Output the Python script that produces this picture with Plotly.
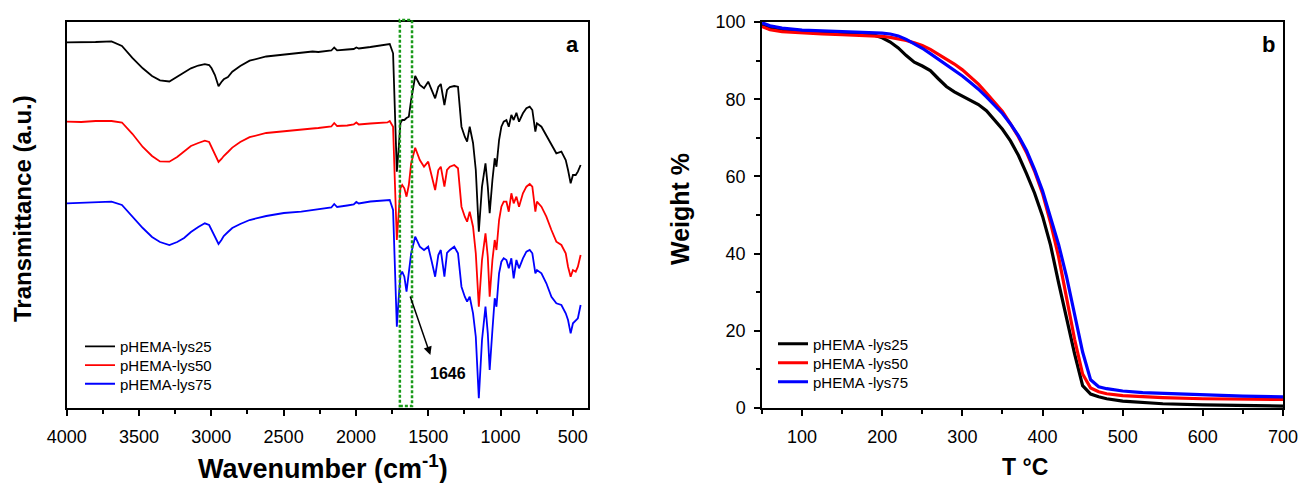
import plotly.graph_objects as go

# ---------------- FTIR data (panel a) ----------------
wavenumber = [4000, 3900, 3800, 3690, 3618, 3546, 3474, 3410, 3355, 3290, 3236, 3188, 3141, 3090,
              3045, 3015, 2998, 2975, 2950, 2930, 2914, 2885, 2855, 2800, 2735, 2620, 2498, 2378,
              2300, 2260, 2170, 2150, 2130, 2060, 2015, 1997, 1980, 1900, 1820, 1782, 1766, 1743,
              1731, 1717, 1705, 1692, 1680, 1665, 1650, 1634, 1618, 1590, 1558, 1529, 1500, 1475,
              1452, 1430, 1413, 1388, 1370, 1350, 1320, 1294, 1270, 1247, 1231, 1213, 1190, 1171,
              1150, 1128, 1104, 1088, 1075, 1056, 1040, 1028, 1010, 994, 978, 959, 943, 925, 909,
              890, 872, 845, 821, 798, 780, 759, 748, 717, 683, 648, 614, 579, 549, 533, 515, 499,
              480, 465, 446]

t_lys25 = [365.6, 365.5, 366, 366.6, 362.1, 350.1, 339.7, 332, 327.7, 326.5, 331.1, 336, 339.7, 342.5,
           343.9, 343, 339.7, 333, 321.8, 326, 328.7, 331, 336.3, 342, 347.3, 351.5, 353.5, 355.5,
           356.5, 356, 357.5, 360.5, 357.7, 358.5, 359, 360.5, 359.5, 361, 362.5, 363.2, 364, 354.7,
           305, 236.3, 258, 285, 288, 288, 290, 291.3, 308, 332, 323, 319.7, 326.3, 318,
           309.7, 321, 324, 303, 318, 321, 322, 321.3, 281.3, 271.3, 266.3, 281.3, 265, 238,
           176.3, 221.3, 244.7, 221.3, 194.7, 228, 249.7, 241.3, 268, 281.3, 286.3, 288, 281.3, 293, 288,
           295.3, 286.3, 294.7, 299.7, 301.3, 298, 276.3, 284.7, 281.3, 273, 263, 254.7, 256.3, 248, 238, 224.7, 233,
           233, 236.3, 243]

t_lys50 = [286.3, 286, 287, 287, 285.5, 274.2, 261, 252, 246.6, 246.3, 251, 257, 262, 265,
           267.3, 266, 260.4, 254, 246, 249, 252, 256, 260.4, 266, 270.8, 275, 277, 278.3,
           279.5, 280, 281.5, 285, 282, 282.5, 283.5, 285.5, 283.5, 284.5, 285.2, 285.6, 287, 281.3,
           228, 168, 193, 220, 223, 219.7, 211.3, 223, 244.7, 260.3, 248, 241.3, 246.3, 233,
           218, 238, 241.3, 221.3, 238, 241.3, 243, 239.7, 201.3, 191.3, 186.3, 196.3, 181.3, 154.7,
           101.3, 148, 174.7, 151.3, 111.3, 148, 168, 158, 188, 201.3, 206.3, 206.3, 196.3, 214.7, 204.7,
           211.3, 201.3, 214.7, 221.3, 224, 221.3, 196.3, 206.3, 201.3, 191.3, 178, 166.3, 163, 154.7, 141.3, 131.3, 138,
           136.3, 141.3, 153]

t_lys75 = [204.7, 205, 206, 206.3, 203, 191.3, 180, 171, 166, 163, 166, 170, 176, 181,
           184.7, 183, 178, 171, 164, 168, 172, 176, 180, 184, 188, 192, 195, 196.3,
           198, 198.5, 200.5, 204, 201, 202.5, 203.5, 206, 204.5, 206.5, 207.5, 208, 208, 198,
           148, 81.3, 108, 133, 136.3, 131.3, 116.3, 134.7, 154.7, 171.3, 161.3, 158, 161.3, 146,
           131.3, 153, 158, 131.3, 155, 158, 161.3, 154.7, 121.3, 111.3, 106.3, 111.3, 94.7, 71.3,
           9.7, 68, 101.3, 74.7, 38, 78, 109.7, 101.3, 134.7, 146.3, 149.7, 148, 139.7, 149.7, 129.7,
           148, 139.7, 149.7, 156.3, 158, 154.7, 134.7, 138, 134.7, 124.7, 111.3, 104.7, 103, 94.7, 88, 74.7, 84.7,
           88, 89.7, 103]

ftir_names = ["pHEMA-lys25", "pHEMA-lys50", "pHEMA-lys75"]

# ---------------- TGA data (panel b) ----------------
temperature = [50, 60, 75, 100, 125, 150, 175, 190, 200, 210, 220, 230, 240, 250, 260, 270, 280, 290,
               300, 310, 320, 330, 340, 350, 360, 370, 380, 390, 400, 410, 420, 430, 440, 450, 460,
               470, 480, 500, 525, 550, 600, 650, 700]
w_lys25 = [99.3, 98.6, 98.0, 97.6, 97.4, 97.2, 97.0, 96.6, 95.9, 94.8, 93.3, 91.3, 89.6, 88.6, 87.4,
           85.3, 83.3, 81.9, 80.8, 79.8, 78.6, 77.0, 74.7, 72.2, 69.2, 65.4, 60.7, 55.7, 49.7, 42.2,
           32.5, 23.2, 14.0, 5.8, 3.6, 2.9, 2.4, 1.8, 1.4, 1.1, 0.8, 0.6, 0.5]
w_lys50 = [98.8, 98.0, 97.5, 97.1, 96.9, 96.7, 96.5, 96.4, 96.3, 96.0, 95.7, 95.2, 94.6, 93.9, 92.9,
           91.7, 90.4, 89.1, 87.6, 85.8, 83.9, 81.6, 79.2, 76.8, 73.6, 70.2, 66.2, 61.4, 55.6, 48.0,
           39.2, 28.7, 17.8, 8.8, 5.2, 4.2, 3.7, 3.2, 2.9, 2.7, 2.4, 2.3, 2.2]
w_lys75 = [99.8, 99.0, 98.4, 97.9, 97.7, 97.5, 97.4, 97.3, 97.1, 96.9, 96.4, 95.5, 94.4, 93.2, 91.8,
           90.4, 89.0, 87.5, 86.0, 84.3, 82.6, 80.6, 78.5, 76.3, 73.6, 70.5, 66.7, 61.8, 56.3, 49.6,
           42.4, 34.0, 24.5, 14.5, 7.3, 5.5, 5.0, 4.4, 4.0, 3.8, 3.4, 3.1, 2.9]
tga_names = ["pHEMA -lys25", "pHEMA -lys50", "pHEMA -lys75"]

colors = ["#000000", "#ff0000", "#0000ff"]
FONT = "Liberation Sans, Arial, sans-serif"

W, H = 1301, 483
def px(x):
    return x / W
def py(y):
    return (H - y) / H

# legend row positions (one legend per entry so rows sit where the reference has them)
ftir_legend_rows = [346.7, 365.3, 384]
tga_legend_rows = [344, 363, 382]

fig = go.Figure()

legend_layout = {}
for i, (name, ys, c) in enumerate(zip(ftir_names, [t_lys25, t_lys50, t_lys75], colors)):
    lg = "legend" if i == 0 else f"legend{i + 1}"
    fig.add_trace(go.Scatter(x=wavenumber, y=ys, mode="lines", name=name,
                             line=dict(color=c, width=1.8), xaxis="x", yaxis="y",
                             legend=lg))
    legend_layout[lg] = dict(x=px(80), y=py(ftir_legend_rows[i]), xanchor="left", yanchor="middle",
                             bgcolor="rgba(0,0,0,0)", borderwidth=0,
                             font=dict(family=FONT, size=15, color="black"))

for i, (name, ys, c) in enumerate(zip(tga_names, [w_lys25, w_lys50, w_lys75], colors)):
    lg = f"legend{i + 4}"
    fig.add_trace(go.Scatter(x=temperature, y=ys, mode="lines", name=name,
                             line=dict(color=c, width=3.2), xaxis="x2", yaxis="y2",
                             legend=lg))
    legend_layout[lg] = dict(x=px(773), y=py(tga_legend_rows[i]), xanchor="left", yanchor="middle",
                             bgcolor="rgba(0,0,0,0)", borderwidth=0,
                             font=dict(family=FONT, size=15, color="black"))

axis_common = dict(showline=True, linecolor="black", linewidth=1.5, mirror=True,
                   showgrid=False, zeroline=False,
                   tickfont=dict(family=FONT, size=18, color="black"))

fig.update_layout(
    width=W, height=H,
    margin=dict(l=0, r=0, t=0, b=0, autoexpand=False),
    paper_bgcolor="white", plot_bgcolor="white",
    showlegend=True,
    xaxis=dict(domain=[px(66.7), px(588)], range=[4000, 395], anchor="y",
               ticks="outside", ticklen=6, tickwidth=1.5, tickcolor="black",
               tick0=500, dtick=500, ticklabelstandoff=6,
               minor=dict(ticks="outside", ticklen=4, tickwidth=1.5, tickcolor="black", dtick=250),
               **axis_common),
    yaxis=dict(domain=[py(408), py(22)], range=[0, 386], anchor="x",
               showticklabels=False, ticks="", **axis_common),
    xaxis2=dict(domain=[px(762), px(1283)], range=[50, 700], anchor="y2",
                ticks="outside", ticklen=6, tickwidth=1.5, tickcolor="black",
                tick0=0, dtick=100, ticklabelstandoff=6,
                minor=dict(ticks="outside", ticklen=4, tickwidth=1.5, tickcolor="black", dtick=50),
                **axis_common),
    yaxis2=dict(domain=[py(408), py(22)], range=[0, 100], anchor="x2",
                ticks="outside", ticklen=6, tickwidth=1.5, tickcolor="black",
                tick0=0, dtick=20, ticklabelstandoff=5,
                minor=dict(ticks="outside", ticklen=4, tickwidth=1.5, tickcolor="black", dtick=10),
                **axis_common),
    **legend_layout,
)

# green dashed rectangle around the 1646 band
fig.add_shape(type="rect", xref="x", yref="paper", x0=1696, x1=1612,
              y0=py(406), y1=py(20), line=dict(color="#1a9a1a", width=2.5, dash="3px,2px"),
              fillcolor="rgba(0,0,0,0)", layer="above")

def note(x, y, text, size, angle=0):
    return dict(x=px(x), y=py(y), xref="paper", yref="paper", text=text, showarrow=False,
                xanchor="center", yanchor="middle", textangle=angle,
                font=dict(family=FONT, size=size, color="black"))

annotations = [
    dict(x=1485, y=53, xref="x", yref="y", ax=1628, ay=113, axref="x", ayref="y",
         showarrow=True, arrowhead=2, arrowsize=1.1, arrowwidth=1.5, arrowcolor="black", text=""),
    dict(x=1365, y=35, xref="x", yref="y", text="<b>1646</b>", showarrow=False,
         xanchor="center", yanchor="middle",
         font=dict(family=FONT, size=16, color="black")),
    note(572, 44, "<b>a</b>", 22),
    note(1268, 45, "<b>b</b>", 22),
    note(22, 209, "<b>Transmittance (a.u.)</b>", 24, -90),
    note(323, 467, "<b>Wavenumber (cm<sup>-1</sup>)</b>", 27),
    note(680, 209, "<b>Weight %</b>", 25, -90),
    note(1025, 467, "<b>T °C</b>", 23),
]
fig.update_layout(annotations=annotations)

fig.write_html("out.html", config={"displayModeBar": False},
               post_script="document.body.style.margin='0';document.body.style.padding='0';")
